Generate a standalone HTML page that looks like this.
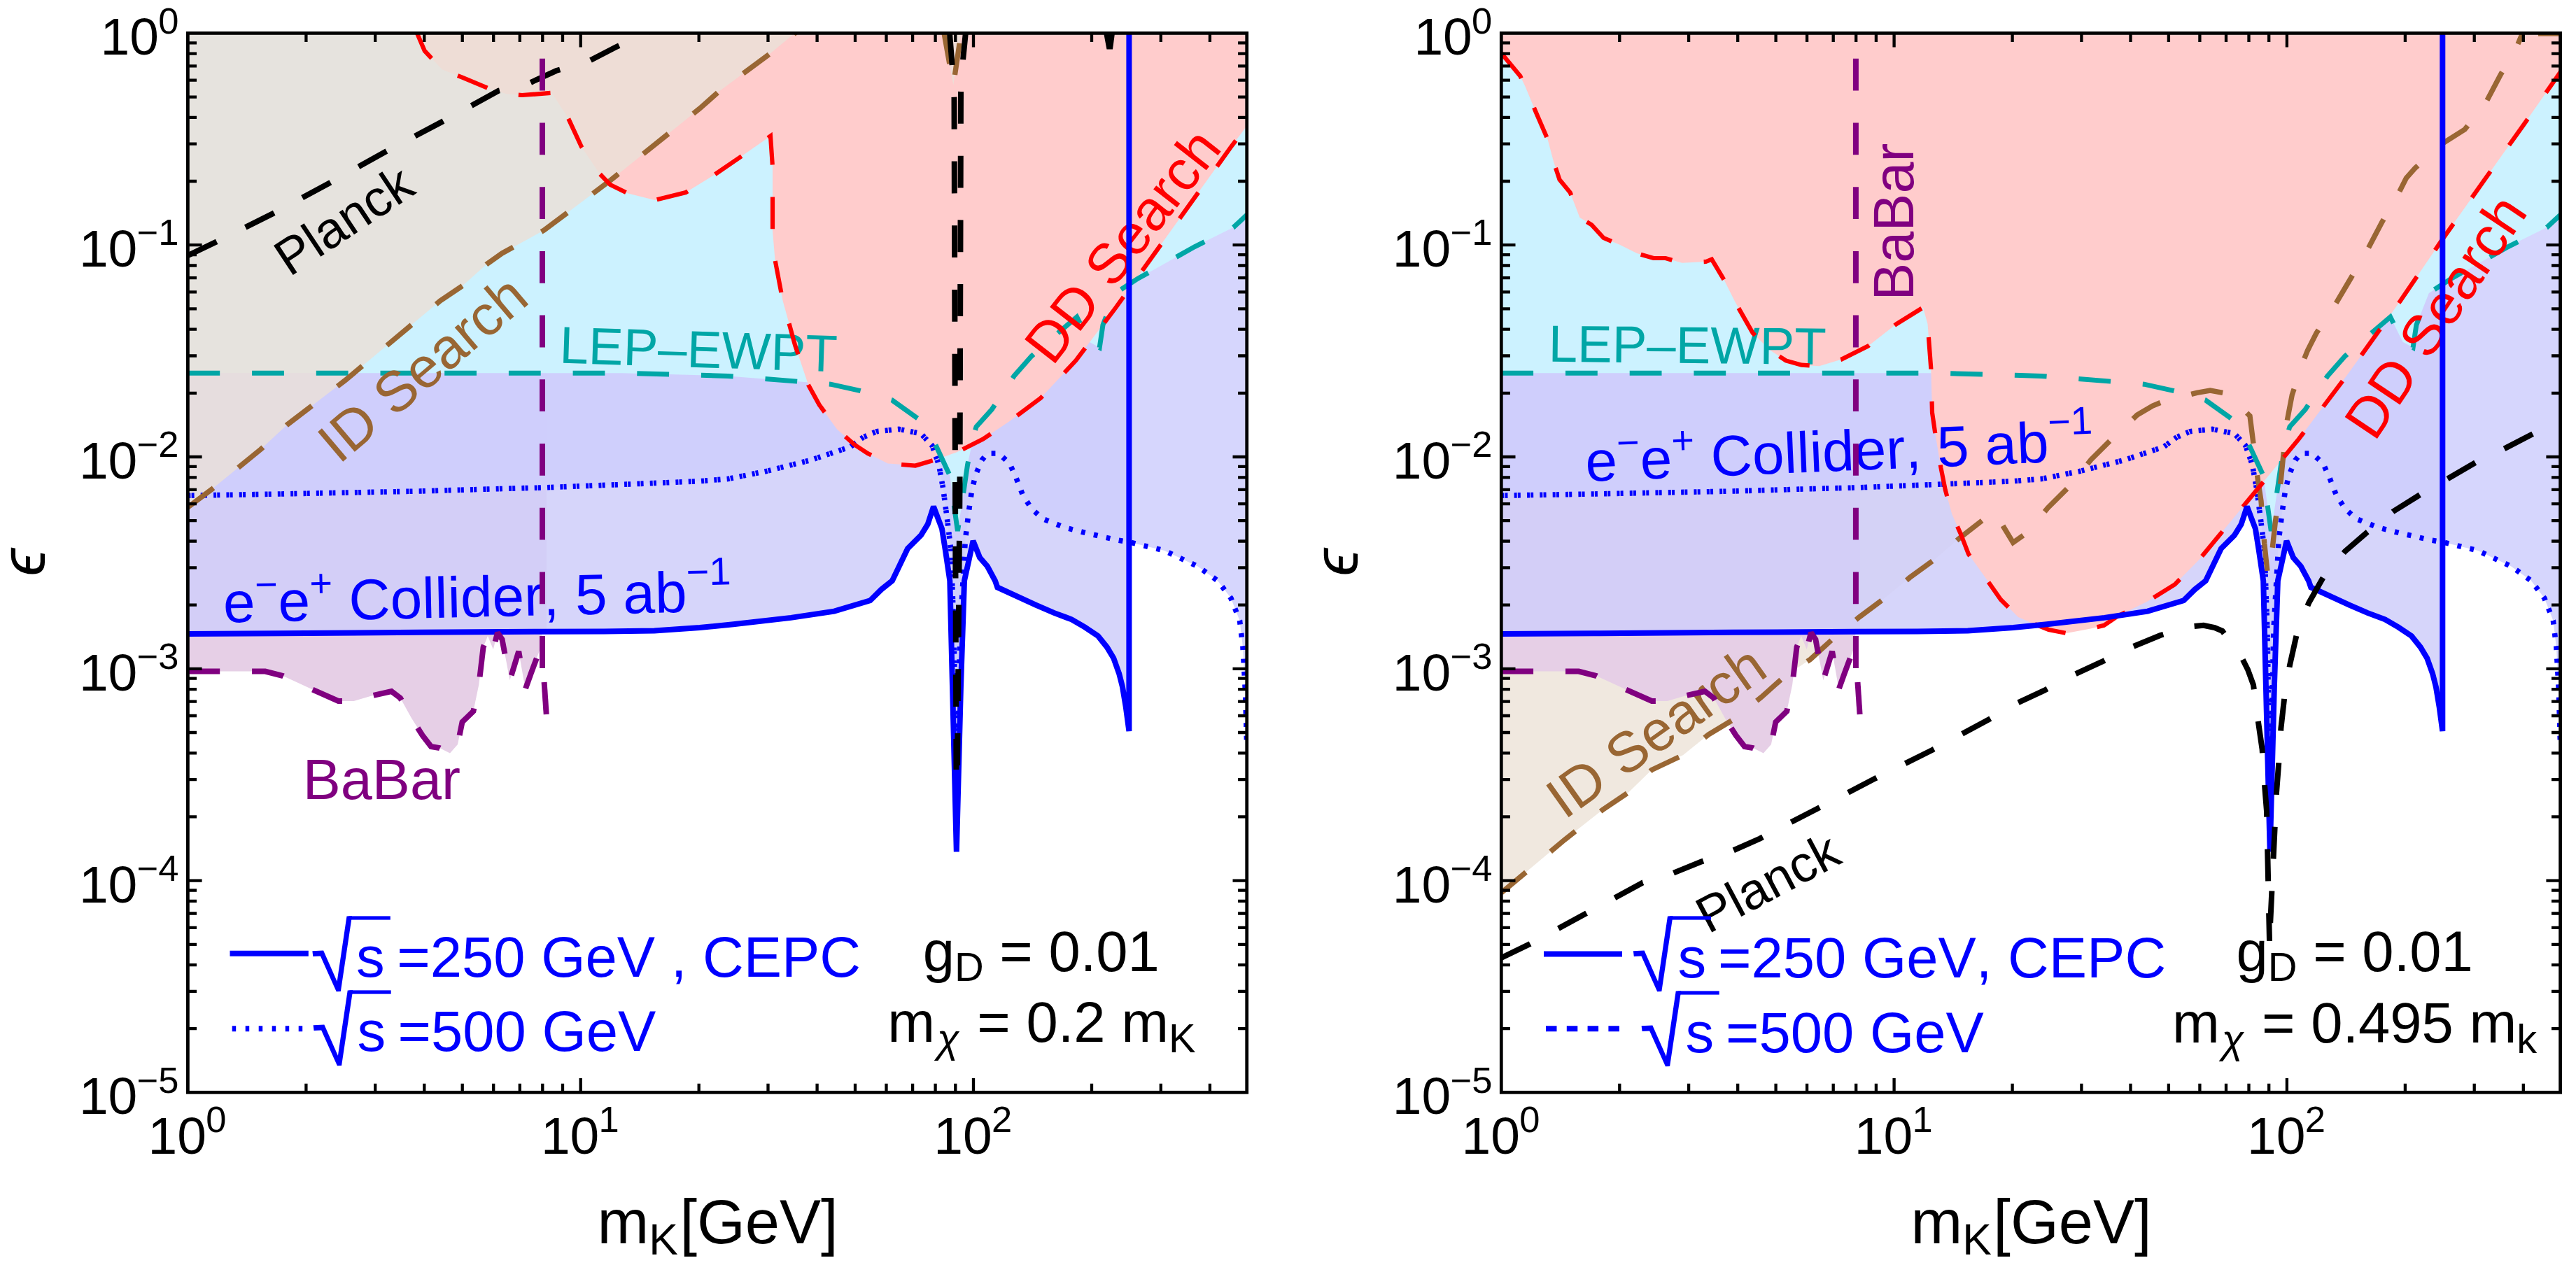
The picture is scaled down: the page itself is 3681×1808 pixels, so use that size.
<!DOCTYPE html>
<html lang="en"><head><meta charset="utf-8"><title>Dark photon kinetic mixing limits</title>
<style>html,body{margin:0;padding:0;background:#fff;overflow:hidden;width:3681px;height:1808px}svg{display:block}text{font-family:'Liberation Sans', Arial, sans-serif;font-kerning:none;font-variant-ligatures:none}</style></head><body>
<svg width="3681" height="1808" viewBox="0 0 3681 1808">
<rect width="3681" height="1808" fill="#fff"/>
<defs>
<clipPath id="cl"><rect x="268.4" y="47.4" width="1513.3" height="1513.9"/></clipPath>
<clipPath id="cr"><rect x="2145.3" y="47.4" width="1513.3" height="1513.9"/></clipPath>
</defs>
<g clip-path="url(#cl)">
<path d="M268.4,959.6 L379.0,959.6 L404.4,966.0 L445.5,985.0 L483.5,1002.0 L505.6,1002.0 L531.0,994.4 L559.4,988.0 L572.0,997.6 L587.8,1026.0 L603.6,1051.0 L616.0,1067.0 L628.0,1069.0 L643.0,1076.6 L654.0,1064.0 L660.5,1032.0 L676.4,1016.6 L684.3,978.6 L690.6,924.9 L697.0,909.0 L704.8,928.0 L711.0,904.3 L717.5,913.8 L728.5,972.3 L741.2,931.0 L750.7,985.0 L758.6,962.8 L772.8,924.9 L774.8,902.7 L781.0,902.7 L781.0,42.4 L268.4,42.4Z" fill="#e6cfe6"/>
<path d="M268.4,906.0 L400.0,905.3 L600.0,903.8 L775.0,902.8 L863.0,902.5 L935.0,901.4 L1000.0,897.0 L1048.0,892.2 L1130.3,882.9 L1192.0,873.7 L1243.4,858.3 L1259.3,842.6 L1275.0,830.0 L1297.0,784.0 L1316.0,765.0 L1325.7,749.4 L1334.0,724.0 L1346.0,755.7 L1351.0,787.0 L1357.3,830.0 L1361.0,980.0 L1366.8,1217.4 L1373.0,980.0 L1378.0,830.0 L1384.0,803.0 L1390.5,773.0 L1400.0,796.8 L1411.0,809.5 L1422.0,830.0 L1425.3,839.5 L1480.6,864.8 L1506.0,875.9 L1531.2,885.3 L1550.2,896.4 L1569.0,909.0 L1581.8,924.9 L1591.3,940.7 L1599.2,962.8 L1604.0,981.8 L1608.7,1010.0 L1613.4,1045.0 L1613.4,42.4 L268.4,42.4Z" fill="rgba(207,206,249,0.86)"/>
<path d="M268.4,708.3 L400.0,706.0 L500.0,704.0 L600.0,702.0 L700.0,699.0 L774.4,697.0 L900.0,692.0 L1000.0,687.7 L1040.0,684.5 L1095.0,673.5 L1158.0,657.7 L1215.0,638.7 L1234.0,624.5 L1253.0,616.6 L1284.6,613.4 L1316.0,619.7 L1332.0,637.0 L1341.5,664.0 L1347.8,698.8 L1354.0,746.0 L1359.0,787.0 L1363.0,900.0 L1367.0,1150.0 L1372.0,900.0 L1379.4,771.5 L1384.0,733.5 L1389.0,698.8 L1395.0,676.6 L1403.0,657.7 L1411.0,648.0 L1427.0,648.0 L1442.7,662.4 L1452.0,683.0 L1461.7,708.0 L1474.0,727.0 L1490.0,741.5 L1521.7,754.0 L1553.0,762.0 L1594.5,771.5 L1613.4,774.7 L1664.0,787.0 L1711.5,809.5 L1740.0,830.0 L1759.0,855.0 L1771.5,887.0 L1776.0,925.0 L1779.5,988.0 L1781.5,1060.0 L1781.7,42.4 L268.4,42.4Z" fill="rgba(206,206,252,0.83)"/>
<path d="M268.4,533.2 L888.0,533.2 L956.8,535.0 L1040.0,537.5 L1146.6,545.7 L1186.9,549.2 L1229.6,558.7 L1274.6,571.8 L1312.6,599.0 L1336.8,635.5 L1357.3,679.8 L1368.4,759.0 L1373.0,730.0 L1382.6,664.0 L1392.0,619.7 L1395.0,610.0 L1417.4,585.0 L1449.0,537.5 L1474.0,509.0 L1506.4,480.6 L1538.8,453.0 L1556.6,488.7 L1571.2,496.8 L1576.0,464.4 L1593.9,419.0 L1626.3,397.9 L1655.5,381.7 L1707.3,352.5 L1733.2,339.6 L1762.4,325.0 L1781.8,307.0 L1781.8,42.4 L268.4,42.4Z" fill="#ccf2ff"/>
<path d="M594.5,44.0 L606.8,72.7 L632.0,99.6 L660.5,110.6 L698.5,126.4 L723.8,134.3 L746.0,136.0 L788.6,132.8 L812.0,169.0 L831.0,210.0 L856.6,248.0 L872.0,264.0 L897.7,276.6 L935.6,286.0 L980.0,275.0 L1019.0,251.0 L1060.0,223.0 L1101.0,194.4 L1104.0,238.7 L1104.0,330.0 L1107.5,371.5 L1118.6,430.0 L1126.5,458.5 L1136.0,493.0 L1155.0,550.0 L1170.7,578.6 L1196.0,613.4 L1221.0,635.5 L1240.0,648.0 L1268.8,662.4 L1308.0,665.6 L1335.0,657.7 L1366.8,646.6 L1404.7,627.6 L1442.7,602.0 L1487.0,569.0 L1537.5,515.0 L1594.5,439.5 L1759.0,210.0 L1784.0,177.0 L1784.0,42.4 L594.5,42.4Z" fill="#ffcccc"/>
<path d="M268.4,725.0 L303.0,699.0 L372.8,642.0 L409.5,607.7 L493.0,543.8 L629.0,430.0 L660.9,408.5 L695.0,378.0 L717.5,362.0 L777.5,329.0 L872.4,257.7 L1000.0,155.0 L1027.0,131.0 L1100.0,77.0 L1140.0,44.0 L1140.0,42.4 L268.4,42.4Z" fill="rgba(235,224,215,0.83)"/>
<path d="M1348.8,46.0 L1362.3,121.7 L1373.5,46.0Z" fill="rgba(235,224,215,0.83)"/>
<g fill="none" stroke-linejoin="miter">
<path d="M268.4,708.3 L400.0,706.0 L500.0,704.0 L600.0,702.0 L700.0,699.0 L774.4,697.0 L900.0,692.0 L1000.0,687.7 L1040.0,684.5 L1095.0,673.5 L1158.0,657.7 L1215.0,638.7 L1234.0,624.5 L1253.0,616.6 L1284.6,613.4 L1316.0,619.7 L1332.0,637.0 L1341.5,664.0 L1347.8,698.8 L1354.0,746.0 L1359.0,787.0 L1363.0,900.0 L1367.0,1150.0" stroke="#0000ff" stroke-width="7.6" stroke-dasharray="4 1.2 4 9.15"/>
<path d="M1367.0,1150.0 L1372.0,900.0 L1379.4,771.5 L1384.0,733.5 L1389.0,698.8 L1395.0,676.6 L1403.0,657.7 L1411.0,648.0 L1427.0,648.0 L1442.7,662.4 L1452.0,683.0 L1461.7,708.0 L1474.0,727.0 L1490.0,741.5 L1521.7,754.0 L1553.0,762.0 L1594.5,771.5 L1613.4,774.7 L1664.0,787.0 L1711.5,809.5 L1740.0,830.0 L1759.0,855.0 L1771.5,887.0 L1776.0,925.0 L1779.5,988.0 L1781.5,1060.0" stroke="#0000ff" stroke-width="7.6" stroke-dasharray="5.8 12.55"/>
<path d="M268.4,533.2 L888.0,533.2 L956.8,535.0 L1040.0,537.5 L1146.6,545.7 L1186.9,549.2 L1229.6,558.7 L1274.6,571.8 L1312.6,599.0 L1336.8,635.5 L1357.3,679.8 L1368.4,759.0 L1373.0,730.0 L1382.6,664.0 L1392.0,619.7 L1395.0,610.0 L1417.4,585.0 L1449.0,537.5 L1474.0,509.0 L1506.4,480.6 L1538.8,453.0 L1556.6,488.7 L1571.2,496.8 L1576.0,464.4 L1593.9,419.0 L1626.3,397.9 L1655.5,381.7 L1707.3,352.5 L1733.2,339.6 L1762.4,325.0 L1781.8,307.0" stroke="#00a6a6" stroke-width="7" stroke-dasharray="45.8 45.9"/>
</g>
<text x="799" y="518.6" font-size="74.4" fill="#00a6a6" transform="rotate(1.85 799 518.6)">LEP–EWPT</text>
<g fill="none" stroke-linejoin="miter">
<path d="M268.4,725.0 L303.0,699.0 L372.8,642.0 L409.5,607.7 L493.0,543.8 L629.0,430.0 L660.9,408.5 L695.0,378.0 L717.5,362.0 L777.5,329.0 L872.4,257.7 L1000.0,155.0 L1027.0,131.0 L1100.0,77.0 L1140.0,44.0" stroke="#996633" stroke-width="7.4" stroke-dasharray="45.8 45.9"/>
<path d="M1348.8,46.0 L1362.3,121.7 L1373.5,46.0" stroke="#996633" stroke-width="7.4" stroke-dasharray="45.8 45.9"/>
</g>
<text x="484.5" y="664.5" font-size="81" fill="#996633" transform="rotate(-40.3 484.5 664.5)">ID Search</text>
<g fill="none" stroke-linejoin="miter">
<path d="M594.5,44.0 L606.8,72.7 L632.0,99.6 L660.5,110.6 L698.5,126.4 L723.8,134.3 L746.0,136.0 L788.6,132.8 L812.0,169.0 L831.0,210.0 L856.6,248.0 L872.0,264.0 L897.7,276.6 L935.6,286.0 L980.0,275.0 L1019.0,251.0 L1060.0,223.0 L1101.0,194.4 L1104.0,238.7 L1104.0,330.0 L1107.5,371.5 L1118.6,430.0 L1126.5,458.5 L1136.0,493.0 L1155.0,550.0 L1170.7,578.6 L1196.0,613.4 L1221.0,635.5 L1240.0,648.0 L1268.8,662.4 L1308.0,665.6 L1335.0,657.7 L1366.8,646.6 L1404.7,627.6 L1442.7,602.0 L1487.0,569.0 L1537.5,515.0 L1594.5,439.5 L1759.0,210.0 L1784.0,177.0" stroke="#ff0000" stroke-width="6.2" stroke-dasharray="45.8 45.9"/>
</g>
<text x="1504" y="524.4" font-size="81" fill="#ff0000" transform="rotate(-52 1504 524.4)">DD Search</text>
<path d="M268.4,906.0 L400.0,905.3 L600.0,903.8 L775.0,902.8 L863.0,902.5 L935.0,901.4 L1000.0,897.0 L1048.0,892.2 L1130.3,882.9 L1192.0,873.7 L1243.4,858.3 L1259.3,842.6 L1275.0,830.0 L1297.0,784.0 L1316.0,765.0 L1325.7,749.4 L1334.0,724.0 L1346.0,755.7 L1351.0,787.0 L1357.3,830.0 L1361.0,980.0 L1366.8,1217.4 L1373.0,980.0 L1378.0,830.0 L1384.0,803.0 L1390.5,773.0 L1400.0,796.8 L1411.0,809.5 L1422.0,830.0 L1425.3,839.5 L1480.6,864.8 L1506.0,875.9 L1531.2,885.3 L1550.2,896.4 L1569.0,909.0 L1581.8,924.9 L1591.3,940.7 L1599.2,962.8 L1604.0,981.8 L1608.7,1010.0 L1613.4,1045.0 L1613.4,47.4" fill="none" stroke="#0000ff" stroke-width="8" stroke-linejoin="miter" stroke-miterlimit="3"/>
<text x="319.6" y="889.8" font-size="82" fill="#0000ff" transform="rotate(-1.30 319.6 889.8)">e<tspan font-size="56" dy="-34">−</tspan><tspan dy="34">e</tspan><tspan font-size="56" dy="-34">+</tspan><tspan dy="34"> Collider, 5 ab</tspan><tspan font-size="56" dy="-38">−1</tspan></text>
<g fill="none" stroke="#000" stroke-width="8">
<path d="M268.4,365.2 L308.0,346.2 L390.2,305.1 L469.2,262.4 L551.5,216.6 L632.0,173.9 L712.7,129.6 L753.8,120.0 L795.0,101.0 L839.2,88.5 L878.7,68.0 L930.0,44.0" stroke-dasharray="45.8 45.9"/>
<path d="M1357.0,47.4 L1360.5,92.0 L1363.5,140.0 L1365.0,700.0 L1366.5,1100.0" stroke-dasharray="45.8 45.9"/>
<path d="M1380.6,39.6 L1376.2,84.0 L1373.0,131.0 L1371.5,700.0 L1368.0,1100.0" stroke-dasharray="45.8 45.9"/>
<path d="M1576.5,44.0 L1581.5,70.5 L1590.0,70.5 L1593.5,44.0Z" fill="#000" stroke="none"/>
</g>
<text x="413.7" y="396.3" font-size="73" fill="#000" transform="rotate(-33.5 413.7 396.3)">Planck</text>
<g fill="none" stroke="#800080" stroke-width="8" stroke-linejoin="miter" stroke-miterlimit="2">
<path d="M268.4,959.6 L379.0,959.6 L404.4,966.0 L445.5,985.0 L483.5,1002.0 L505.6,1002.0 L531.0,994.4 L559.4,988.0 L572.0,997.6 L587.8,1026.0 L603.6,1051.0 L616.0,1067.0 L628.0,1069.0 L643.0,1076.6 L654.0,1064.0 L660.5,1032.0 L676.4,1016.6 L684.3,978.6 L690.6,924.9 L697.0,909.0 L704.8,928.0 L711.0,904.3 L717.5,913.8 L728.5,972.3 L741.2,931.0 L750.7,985.0 L758.6,962.8 L772.8,924.9 L774.8,902.7" stroke-dasharray="45.8 45.9"/>
<path d="M775.0,83.8 L775.0,958.0" stroke-dasharray="45.8 45.9"/>
<path d="M777.6,975.0 L780.7,1021.0"/>
</g>
<text x="432.8" y="1141.5" font-size="81" fill="#800080">BaBar</text>
</g>
<line x1="328.5" y1="1362.8" x2="440.8" y2="1362.8" stroke="#0000ff" stroke-width="8"/>
<line x1="331.7" y1="1470.3" x2="434" y2="1470.3" stroke="#0000ff" stroke-width="8" stroke-dasharray="5.5 13.5"/>
<text x="0" y="0" font-size="100" font-family="'Liberation Serif','DejaVu Serif',serif" fill="#0000ff" transform="matrix(1.1927 -0.0554 0.1621 1.3340 450.40 1417.83)">√</text><rect x="498.0" y="1309.4" width="59.8" height="5.2" fill="#0000ff"/>
<text x="0" y="0" font-size="100" font-family="'Liberation Serif','DejaVu Serif',serif" fill="#0000ff" transform="matrix(1.1927 -0.0554 0.1621 1.3340 451.70 1523.83)">√</text><rect x="499.3" y="1415.4" width="59.4" height="5.2" fill="#0000ff"/>
<text x="509" y="1396" font-size="81.4" fill="#0000ff">s</text>
<text x="567.3" y="1396" font-size="81.4" fill="#0000ff">=250 GeV , CEPC</text>
<text x="510.5" y="1502" font-size="81.4" fill="#0000ff">s</text>
<text x="568.5" y="1502" font-size="81.4" fill="#0000ff">=500 GeV</text>
<text x="1318.7" y="1387.5" font-size="81.4">g<tspan font-size="57.8" dy="14.9">D</tspan><tspan dy="-14.9"> = 0.01</tspan></text>
<text x="1268.3" y="1489.3" font-size="81.4">m<tspan font-size="57.8" dy="14.9" font-style="italic" dx="3">χ</tspan><tspan dy="-14.9" dx="3"> = 0.2 m</tspan><tspan font-size="57.8" dy="14.9">K</tspan></text>
<g stroke="#000" fill="none">
<rect x="268.4" y="47.4" width="1513.3" height="1513.9" stroke-width="4.75"/>
<path stroke-width="4.3" d="M437.4,1561.3L437.4,1548.7M437.4,47.4L437.4,60.0M536.2,1561.3L536.2,1548.7M536.2,47.4L536.2,60.0M606.3,1561.3L606.3,1548.7M606.3,47.4L606.3,60.0M660.7,1561.3L660.7,1548.7M660.7,47.4L660.7,60.0M705.2,1561.3L705.2,1548.7M705.2,47.4L705.2,60.0M742.8,1561.3L742.8,1548.7M742.8,47.4L742.8,60.0M775.3,1561.3L775.3,1548.7M775.3,47.4L775.3,60.0M804.0,1561.3L804.0,1548.7M804.0,47.4L804.0,60.0M829.7,1561.3L829.7,1541.1M829.7,47.4L829.7,67.6M998.7,1561.3L998.7,1548.7M998.7,47.4L998.7,60.0M1097.5,1561.3L1097.5,1548.7M1097.5,47.4L1097.5,60.0M1167.6,1561.3L1167.6,1548.7M1167.6,47.4L1167.6,60.0M1222.0,1561.3L1222.0,1548.7M1222.0,47.4L1222.0,60.0M1266.5,1561.3L1266.5,1548.7M1266.5,47.4L1266.5,60.0M1304.1,1561.3L1304.1,1548.7M1304.1,47.4L1304.1,60.0M1336.6,1561.3L1336.6,1548.7M1336.6,47.4L1336.6,60.0M1365.3,1561.3L1365.3,1548.7M1365.3,47.4L1365.3,60.0M1391.0,1561.3L1391.0,1541.1M1391.0,47.4L1391.0,67.6M1560.0,1561.3L1560.0,1548.7M1560.0,47.4L1560.0,60.0M1658.8,1561.3L1658.8,1548.7M1658.8,47.4L1658.8,60.0M1728.9,1561.3L1728.9,1548.7M1728.9,47.4L1728.9,60.0M268.4,350.2L288.6,350.2M1781.7,350.2L1761.5,350.2M268.4,259.0L281.0,259.0M1781.7,259.0L1769.1,259.0M268.4,205.7L281.0,205.7M1781.7,205.7L1769.1,205.7M268.4,167.9L281.0,167.9M1781.7,167.9L1769.1,167.9M268.4,138.6L281.0,138.6M1781.7,138.6L1769.1,138.6M268.4,114.6L281.0,114.6M1781.7,114.6L1769.1,114.6M268.4,94.3L281.0,94.3M1781.7,94.3L1769.1,94.3M268.4,76.7L281.0,76.7M1781.7,76.7L1769.1,76.7M268.4,61.3L281.0,61.3M1781.7,61.3L1769.1,61.3M268.4,653.0L288.6,653.0M1781.7,653.0L1761.5,653.0M268.4,561.8L281.0,561.8M1781.7,561.8L1769.1,561.8M268.4,508.5L281.0,508.5M1781.7,508.5L1769.1,508.5M268.4,470.7L281.0,470.7M1781.7,470.7L1769.1,470.7M268.4,441.4L281.0,441.4M1781.7,441.4L1769.1,441.4M268.4,417.4L281.0,417.4M1781.7,417.4L1769.1,417.4M268.4,397.1L281.0,397.1M1781.7,397.1L1769.1,397.1M268.4,379.5L281.0,379.5M1781.7,379.5L1769.1,379.5M268.4,364.1L281.0,364.1M1781.7,364.1L1769.1,364.1M268.4,955.8L288.6,955.8M1781.7,955.8L1761.5,955.8M268.4,864.6L281.0,864.6M1781.7,864.6L1769.1,864.6M268.4,811.3L281.0,811.3M1781.7,811.3L1769.1,811.3M268.4,773.5L281.0,773.5M1781.7,773.5L1769.1,773.5M268.4,744.2L281.0,744.2M1781.7,744.2L1769.1,744.2M268.4,720.2L281.0,720.2M1781.7,720.2L1769.1,720.2M268.4,699.9L281.0,699.9M1781.7,699.9L1769.1,699.9M268.4,682.3L281.0,682.3M1781.7,682.3L1769.1,682.3M268.4,666.9L281.0,666.9M1781.7,666.9L1769.1,666.9M268.4,1258.6L288.6,1258.6M1781.7,1258.6L1761.5,1258.6M268.4,1167.4L281.0,1167.4M1781.7,1167.4L1769.1,1167.4M268.4,1114.1L281.0,1114.1M1781.7,1114.1L1769.1,1114.1M268.4,1076.3L281.0,1076.3M1781.7,1076.3L1769.1,1076.3M268.4,1047.0L281.0,1047.0M1781.7,1047.0L1769.1,1047.0M268.4,1023.0L281.0,1023.0M1781.7,1023.0L1769.1,1023.0M268.4,1002.7L281.0,1002.7M1781.7,1002.7L1769.1,1002.7M268.4,985.1L281.0,985.1M1781.7,985.1L1769.1,985.1M268.4,969.7L281.0,969.7M1781.7,969.7L1769.1,969.7M268.4,1470.2L281.0,1470.2M1781.7,1470.2L1769.1,1470.2M268.4,1416.9L281.0,1416.9M1781.7,1416.9L1769.1,1416.9M268.4,1379.1L281.0,1379.1M1781.7,1379.1L1769.1,1379.1M268.4,1349.8L281.0,1349.8M1781.7,1349.8L1769.1,1349.8M268.4,1325.8L281.0,1325.8M1781.7,1325.8L1769.1,1325.8M268.4,1305.5L281.0,1305.5M1781.7,1305.5L1769.1,1305.5M268.4,1287.9L281.0,1287.9M1781.7,1287.9L1769.1,1287.9M268.4,1272.5L281.0,1272.5M1781.7,1272.5L1769.1,1272.5"/>
</g>
<g fill="#000">
<text x="143.5" y="78.3" font-size="75">10</text><text x="226.2" y="47.5" font-size="52.5">0</text>
<text x="112.9" y="381.1" font-size="75">10</text><text x="195.6" y="350.3" font-size="52.5">−1</text>
<text x="112.9" y="683.9" font-size="75">10</text><text x="195.6" y="653.1" font-size="52.5">−2</text>
<text x="112.9" y="986.7" font-size="75">10</text><text x="195.6" y="955.9" font-size="52.5">−3</text>
<text x="112.9" y="1289.5" font-size="75">10</text><text x="195.6" y="1258.7" font-size="52.5">−4</text>
<text x="112.9" y="1592.3" font-size="75">10</text><text x="195.6" y="1561.5" font-size="52.5">−5</text>
<text x="211.6" y="1648.7" font-size="75">10</text><text x="294.3" y="1617.9" font-size="52.5">0</text>
<text x="772.9" y="1648.7" font-size="75">10</text><text x="855.6" y="1617.9" font-size="52.5">1</text>
<text x="1334.2" y="1648.7" font-size="75">10</text><text x="1416.9" y="1617.9" font-size="52.5">2</text>
<text x="853.5" y="1777" font-size="88.5">m<tspan font-size="62.5" dy="16.3">K</tspan><tspan dy="-16.3" dx="2.5">[GeV]</tspan></text>
<text x="63.5" y="823.5" font-size="90" font-family="'DejaVu Sans',sans-serif" font-style="oblique" transform="rotate(-90 63.5 823.5)">ϵ</text>
</g>
<g clip-path="url(#cr)">
<path d="M2145.4,1276.0 L2236.0,1200.0 L2290.0,1157.5 L2327.7,1132.0 L2360.0,1100.5 L2405.0,1079.2 L2441.5,1049.8 L2477.3,1028.2 L2517.4,996.0 L2549.0,967.6 L2587.0,942.3 L2621.7,910.7 L2656.5,882.2 L2694.5,853.8 L2729.2,825.3 L2765.2,799.2 L2799.6,769.5 L2836.3,741.0 L2850.0,731.0 L2863.6,754.0 L2876.6,775.5 L2896.8,761.2 L2926.4,725.7 L2958.4,693.7 L2988.0,657.0 L3020.0,625.0 L3054.0,593.0 L3076.0,580.0 L3095.0,572.3 L3139.3,561.3 L3158.3,558.0 L3183.6,562.8 L3215.0,594.5 L3220.0,634.0 L3226.2,684.6 L3231.0,716.0 L3235.7,776.3 L3240.5,822.0 L3246.8,787.4 L3251.5,744.7 L3257.9,700.4 L3262.6,653.0 L3267.4,605.5 L3275.3,564.4 L3291.0,517.0 L3297.4,501.0 L3310.0,476.0 L3335.3,438.0 L3359.0,398.0 L3383.0,357.0 L3403.6,317.8 L3427.3,276.7 L3438.4,254.5 L3451.0,240.3 L3487.4,207.0 L3522.0,185.0 L3552.0,147.0 L3572.8,107.5 L3596.5,66.4 L3606.0,44.0 L3606.0,42.4 L2145.4,42.4Z" fill="#f0e8df"/>
<path d="M2145.3,959.6 L2255.9,959.6 L2281.3,966.0 L2322.4,985.0 L2360.4,1002.0 L2382.5,1002.0 L2407.9,994.4 L2436.3,988.0 L2448.9,997.6 L2464.7,1026.0 L2480.5,1051.0 L2492.9,1067.0 L2504.9,1069.0 L2519.9,1076.6 L2530.9,1064.0 L2537.4,1032.0 L2553.3,1016.6 L2561.2,978.6 L2567.5,924.9 L2573.9,909.0 L2581.7,928.0 L2587.9,904.3 L2594.4,913.8 L2605.4,972.3 L2618.1,931.0 L2627.6,985.0 L2635.5,962.8 L2649.7,924.9 L2651.7,902.7 L2657.9,902.7 L2657.9,42.4 L2145.3,42.4Z" fill="#e6cfe6"/>
<path d="M2145.3,906.0 L2276.9,905.3 L2476.9,903.8 L2651.9,902.8 L2739.9,902.5 L2811.9,901.4 L2876.9,897.0 L2924.9,892.2 L3007.2,882.9 L3068.9,873.7 L3120.3,858.3 L3136.2,842.6 L3151.9,830.0 L3173.9,784.0 L3192.9,765.0 L3202.6,749.4 L3210.9,724.0 L3222.9,755.7 L3227.9,787.0 L3234.2,830.0 L3237.9,980.0 L3243.7,1217.4 L3249.9,980.0 L3254.9,830.0 L3260.9,803.0 L3267.4,773.0 L3276.9,796.8 L3287.9,809.5 L3298.9,830.0 L3302.2,839.5 L3357.5,864.8 L3382.9,875.9 L3408.1,885.3 L3427.1,896.4 L3445.9,909.0 L3458.7,924.9 L3468.2,940.7 L3476.1,962.8 L3480.9,981.8 L3485.6,1010.0 L3490.3,1045.0 L3490.3,42.4 L2145.3,42.4Z" fill="rgba(207,206,249,0.86)"/>
<path d="M2145.3,708.3 L2276.9,706.0 L2376.9,704.0 L2476.9,702.0 L2576.9,699.0 L2651.3,697.0 L2776.9,692.0 L2876.9,687.7 L2916.9,684.5 L2971.9,673.5 L3034.9,657.7 L3091.9,638.7 L3110.9,624.5 L3129.9,616.6 L3161.5,613.4 L3192.9,619.7 L3208.9,637.0 L3218.4,664.0 L3224.7,698.8 L3230.9,746.0 L3235.9,787.0 L3239.9,900.0 L3243.9,1150.0 L3248.9,900.0 L3256.3,771.5 L3260.9,733.5 L3265.9,698.8 L3271.9,676.6 L3279.9,657.7 L3287.9,648.0 L3303.9,648.0 L3319.6,662.4 L3328.9,683.0 L3338.6,708.0 L3350.9,727.0 L3366.9,741.5 L3398.6,754.0 L3429.9,762.0 L3471.4,771.5 L3490.3,774.7 L3540.9,787.0 L3588.4,809.5 L3616.9,830.0 L3635.9,855.0 L3648.4,887.0 L3652.9,925.0 L3656.4,988.0 L3658.4,1060.0 L3658.6,42.4 L2145.3,42.4Z" fill="rgba(206,206,252,0.83)"/>
<path d="M2145.3,533.2 L2764.9,533.2 L2833.7,535.0 L2916.9,537.5 L3023.5,545.7 L3063.8,549.2 L3106.5,558.7 L3151.5,571.8 L3189.5,599.0 L3213.7,635.5 L3234.2,679.8 L3245.3,759.0 L3249.9,730.0 L3259.5,664.0 L3268.9,619.7 L3271.9,610.0 L3294.3,585.0 L3325.9,537.5 L3350.9,509.0 L3383.3,480.6 L3415.7,453.0 L3433.5,488.7 L3448.1,496.8 L3452.9,464.4 L3470.8,419.0 L3503.2,397.9 L3532.4,381.7 L3584.2,352.5 L3610.1,339.6 L3639.3,325.0 L3658.7,307.0 L3658.7,42.4 L2145.3,42.4Z" fill="#ccf2ff"/>
<path d="M2145.4,76.0 L2148.6,80.0 L2172.4,108.8 L2179.0,122.4 L2194.5,159.8 L2211.5,199.0 L2220.0,231.0 L2228.5,256.7 L2243.8,275.4 L2257.4,311.0 L2274.4,321.3 L2291.4,340.0 L2315.0,350.0 L2339.0,362.0 L2362.8,369.0 L2380.0,369.0 L2403.6,375.7 L2437.6,374.0 L2446.0,370.6 L2463.6,400.0 L2479.4,431.6 L2504.7,476.0 L2530.0,501.0 L2552.0,515.4 L2574.3,521.7 L2599.6,523.3 L2631.0,513.8 L2669.0,494.9 L2710.0,463.0 L2748.0,439.5 L2754.5,463.0 L2759.3,526.5 L2761.0,589.7 L2765.6,621.3 L2773.5,668.8 L2779.8,700.4 L2789.3,735.0 L2802.0,763.6 L2813.0,792.0 L2836.8,825.3 L2859.0,857.0 L2884.0,882.0 L2900.0,889.0 L2927.4,900.0 L2952.7,905.0 L2987.5,898.6 L3006.5,893.8 L3025.5,881.0 L3069.7,859.0 L3107.7,835.3 L3142.4,800.0 L3284.7,627.7 L3354.0,536.0 L3430.0,430.0 L3487.4,346.0 L3552.0,254.5 L3606.0,178.6 L3650.0,115.4 L3662.0,98.0 L3662.0,42.4 L2145.4,42.4Z" fill="#ffcccc"/>
<g fill="none" stroke-linejoin="miter">
<path d="M2145.3,708.3 L2276.9,706.0 L2376.9,704.0 L2476.9,702.0 L2576.9,699.0 L2651.3,697.0 L2776.9,692.0 L2876.9,687.7 L2916.9,684.5 L2971.9,673.5 L3034.9,657.7 L3091.9,638.7 L3110.9,624.5 L3129.9,616.6 L3161.5,613.4 L3192.9,619.7 L3208.9,637.0 L3218.4,664.0 L3224.7,698.8 L3230.9,746.0 L3235.9,787.0 L3239.9,900.0 L3243.9,1150.0" stroke="#0000ff" stroke-width="7.6" stroke-dasharray="4 1.2 4 9.15"/>
<path d="M3243.9,1150.0 L3248.9,900.0 L3256.3,771.5 L3260.9,733.5 L3265.9,698.8 L3271.9,676.6 L3279.9,657.7 L3287.9,648.0 L3303.9,648.0 L3319.6,662.4 L3328.9,683.0 L3338.6,708.0 L3350.9,727.0 L3366.9,741.5 L3398.6,754.0 L3429.9,762.0 L3471.4,771.5 L3490.3,774.7 L3540.9,787.0 L3588.4,809.5 L3616.9,830.0 L3635.9,855.0 L3648.4,887.0 L3652.9,925.0 L3656.4,988.0 L3658.4,1060.0" stroke="#0000ff" stroke-width="7.6" stroke-dasharray="5.8 12.55"/>
<path d="M2145.3,533.2 L2764.9,533.2 L2833.7,535.0 L2916.9,537.5 L3023.5,545.7 L3063.8,549.2 L3106.5,558.7 L3151.5,571.8 L3189.5,599.0 L3213.7,635.5 L3234.2,679.8 L3245.3,759.0 L3249.9,730.0 L3259.5,664.0 L3268.9,619.7 L3271.9,610.0 L3294.3,585.0 L3325.9,537.5 L3350.9,509.0 L3383.3,480.6 L3415.7,453.0 L3433.5,488.7 L3448.1,496.8 L3452.9,464.4 L3470.8,419.0 L3503.2,397.9 L3532.4,381.7 L3584.2,352.5 L3610.1,339.6 L3639.3,325.0 L3658.7,307.0" stroke="#00a6a6" stroke-width="7" stroke-dasharray="45.8 45.9"/>
</g>
<text x="2212.5" y="516.8" font-size="74.4" fill="#00a6a6" transform="rotate(0.6 2212.5 516.8)">LEP–EWPT</text>
<g fill="none" stroke-linejoin="miter">
<path d="M2145.4,1276.0 L2236.0,1200.0 L2290.0,1157.5 L2327.7,1132.0 L2360.0,1100.5 L2405.0,1079.2 L2441.5,1049.8 L2477.3,1028.2 L2517.4,996.0 L2549.0,967.6 L2587.0,942.3 L2621.7,910.7 L2656.5,882.2 L2694.5,853.8 L2729.2,825.3 L2765.2,799.2 L2799.6,769.5 L2836.3,741.0 L2850.0,731.0 L2863.6,754.0 L2876.6,775.5 L2896.8,761.2 L2926.4,725.7 L2958.4,693.7 L2988.0,657.0 L3020.0,625.0 L3054.0,593.0 L3076.0,580.0 L3095.0,572.3 L3139.3,561.3 L3158.3,558.0 L3183.6,562.8 L3215.0,594.5 L3220.0,634.0 L3226.2,684.6 L3231.0,716.0 L3235.7,776.3 L3240.5,822.0 L3246.8,787.4 L3251.5,744.7 L3257.9,700.4 L3262.6,653.0 L3267.4,605.5 L3275.3,564.4 L3291.0,517.0 L3297.4,501.0 L3310.0,476.0 L3335.3,438.0 L3359.0,398.0 L3383.0,357.0 L3403.6,317.8 L3427.3,276.7 L3438.4,254.5 L3451.0,240.3 L3487.4,207.0 L3522.0,185.0 L3552.0,147.0 L3572.8,107.5 L3596.5,66.4 L3606.0,44.0" stroke="#996633" stroke-width="7.4" stroke-dasharray="45.8 45.9"/>
<path d="M3627,50.3 L3658,50.3" stroke="#996633" stroke-width="3"/>
</g>
<text x="2235.4" y="1172.2" font-size="81" fill="#996633" transform="rotate(-35.3 2235.4 1172.2)">ID Search</text>
<g fill="none" stroke-linejoin="miter">
<path d="M2145.4,76.0 L2148.6,80.0 L2172.4,108.8 L2179.0,122.4 L2194.5,159.8 L2211.5,199.0 L2220.0,231.0 L2228.5,256.7 L2243.8,275.4 L2257.4,311.0 L2274.4,321.3 L2291.4,340.0 L2315.0,350.0 L2339.0,362.0 L2362.8,369.0 L2380.0,369.0 L2403.6,375.7 L2437.6,374.0 L2446.0,370.6 L2463.6,400.0 L2479.4,431.6 L2504.7,476.0 L2530.0,501.0 L2552.0,515.4 L2574.3,521.7 L2599.6,523.3 L2631.0,513.8 L2669.0,494.9 L2710.0,463.0 L2748.0,439.5 L2754.5,463.0 L2759.3,526.5 L2761.0,589.7 L2765.6,621.3 L2773.5,668.8 L2779.8,700.4 L2789.3,735.0 L2802.0,763.6 L2813.0,792.0 L2836.8,825.3 L2859.0,857.0 L2884.0,882.0 L2900.0,889.0 L2927.4,900.0 L2952.7,905.0 L2987.5,898.6 L3006.5,893.8 L3025.5,881.0 L3069.7,859.0 L3107.7,835.3 L3142.4,800.0 L3284.7,627.7 L3354.0,536.0 L3430.0,430.0 L3487.4,346.0 L3552.0,254.5 L3606.0,178.6 L3650.0,115.4 L3662.0,98.0" stroke="#ff0000" stroke-width="6.2" stroke-dasharray="45.8 45.9"/>
</g>
<text x="3393.2" y="632.5" font-size="81" fill="#ff0000" transform="rotate(-56.2 3393.2 632.5)">DD Search</text>
<path d="M2145.3,906.0 L2276.9,905.3 L2476.9,903.8 L2651.9,902.8 L2739.9,902.5 L2811.9,901.4 L2876.9,897.0 L2924.9,892.2 L3007.2,882.9 L3068.9,873.7 L3120.3,858.3 L3136.2,842.6 L3151.9,830.0 L3173.9,784.0 L3192.9,765.0 L3202.6,749.4 L3210.9,724.0 L3222.9,755.7 L3227.9,787.0 L3234.2,830.0 L3237.9,980.0 L3243.7,1217.4 L3249.9,980.0 L3254.9,830.0 L3260.9,803.0 L3267.4,773.0 L3276.9,796.8 L3287.9,809.5 L3298.9,830.0 L3302.2,839.5 L3357.5,864.8 L3382.9,875.9 L3408.1,885.3 L3427.1,896.4 L3445.9,909.0 L3458.7,924.9 L3468.2,940.7 L3476.1,962.8 L3480.9,981.8 L3485.6,1010.0 L3490.3,1045.0 L3490.3,47.4" fill="none" stroke="#0000ff" stroke-width="8" stroke-linejoin="miter" stroke-miterlimit="3"/>
<text x="2266.5" y="688.2" font-size="82" fill="#0000ff" transform="rotate(-2.40 2266.5 688.2)">e<tspan font-size="56" dy="-34">−</tspan><tspan dy="34">e</tspan><tspan font-size="56" dy="-34">+</tspan><tspan dy="34"> Collider, 5 ab</tspan><tspan font-size="56" dy="-38">−1</tspan></text>
<g fill="none" stroke="#000" stroke-width="8">
<path d="M2145.4,1369.0 L2186.2,1349.2 L2266.9,1305.3 L2347.5,1261.5 L2386.6,1249.6 L2430.5,1231.8 L2472.0,1217.6 L2514.7,1198.6 L2555.0,1177.3 L2596.5,1156.0 L2678.7,1113.0 L2761.0,1072.0 L2843.0,1027.7 L2880.0,1006.0 L2921.0,987.0 L2962.0,965.0 L3003.3,946.0 L3044.4,925.5 L3087.0,908.0 L3131.4,895.4 L3148.8,893.8 L3164.6,897.0 L3175.6,901.7 L3202.5,938.0 L3212.0,957.0 L3220.0,979.0 L3226.2,1026.6 L3232.6,1071.0 L3235.7,1118.0 L3239.0,1159.4 L3243.0,1345.0" stroke-dasharray="45.8 45.9"/>
<path d="M3243.0,1345.0 L3253.0,1132.6 L3256.3,1090.0 L3259.4,1040.8 L3264.2,998.0 L3272.0,950.7 L3281.6,908.0 L3299.0,862.0 L3319.5,825.8 L3351.0,788.0 L3382.8,760.5 L3420.7,730.4 L3458.7,706.7 L3499.8,683.0 L3537.7,660.9 L3580.4,640.3 L3620.0,619.8 L3660.0,599.0" stroke-dasharray="45.8 45.9" stroke-dashoffset="65.8"/>
</g>
<text x="2441.1" y="1335.2" font-size="73" fill="#000" transform="rotate(-28 2441.1 1335.2)">Planck</text>
<g fill="none" stroke="#800080" stroke-width="8" stroke-linejoin="miter" stroke-miterlimit="2">
<path d="M2145.3,959.6 L2255.9,959.6 L2281.3,966.0 L2322.4,985.0 L2360.4,1002.0 L2382.5,1002.0 L2407.9,994.4 L2436.3,988.0 L2448.9,997.6 L2464.7,1026.0 L2480.5,1051.0 L2492.9,1067.0 L2504.9,1069.0 L2519.9,1076.6 L2530.9,1064.0 L2537.4,1032.0 L2553.3,1016.6 L2561.2,978.6 L2567.5,924.9 L2573.9,909.0 L2581.7,928.0 L2587.9,904.3 L2594.4,913.8 L2605.4,972.3 L2618.1,931.0 L2627.6,985.0 L2635.5,962.8 L2649.7,924.9 L2651.7,902.7" stroke-dasharray="45.8 45.9"/>
<path d="M2651.9,83.8 L2651.9,958.0" stroke-dasharray="45.8 45.9"/>
<path d="M2654.5,975.0 L2657.6,1021.0"/>
</g>
<text x="2734.4" y="429.7" font-size="81" fill="#800080" transform="rotate(-90 2734.4 429.7)">BaBar</text>
</g>
<line x1="2206" y1="1363.4" x2="2318" y2="1363.4" stroke="#0000ff" stroke-width="8"/>
<line x1="2209" y1="1470.3" x2="2314" y2="1470.3" stroke="#0000ff" stroke-width="8" stroke-dasharray="15.5 14.3"/>
<text x="0" y="0" font-size="100" font-family="'Liberation Serif','DejaVu Serif',serif" fill="#0000ff" transform="matrix(1.1927 -0.0554 0.1621 1.3340 2338.10 1417.83)">√</text><rect x="2385.7" y="1309.4" width="59.3" height="5.2" fill="#0000ff"/>
<text x="0" y="0" font-size="100" font-family="'Liberation Serif','DejaVu Serif',serif" fill="#0000ff" transform="matrix(1.1927 -0.0554 0.1621 1.3340 2349.70 1524.83)">√</text><rect x="2397.3" y="1416.4" width="59.4" height="5.2" fill="#0000ff"/>
<text x="2397.5" y="1396.6" font-size="81.4" fill="#0000ff">s</text>
<text x="2455" y="1396.6" font-size="81.4" fill="#0000ff">=250 GeV, CEPC</text>
<text x="2408.5" y="1504" font-size="81.4" fill="#0000ff">s</text>
<text x="2466" y="1504" font-size="81.4" fill="#0000ff">=500 GeV</text>
<text x="3195.6" y="1387.5" font-size="81.4">g<tspan font-size="57.8" dy="14.9">D</tspan><tspan dy="-14.9"> = 0.01</tspan></text>
<text x="3104" y="1490" font-size="81.4">m<tspan font-size="57.8" dy="14.9" font-style="italic" dx="3">χ</tspan><tspan dy="-14.9" dx="3"> = 0.495 m</tspan><tspan font-size="57.8" dy="14.9">k</tspan></text>
<g stroke="#000" fill="none">
<rect x="2145.3" y="47.4" width="1513.3" height="1513.9" stroke-width="4.75"/>
<path stroke-width="4.3" d="M2314.3,1561.3L2314.3,1548.7M2314.3,47.4L2314.3,60.0M2413.1,1561.3L2413.1,1548.7M2413.1,47.4L2413.1,60.0M2483.2,1561.3L2483.2,1548.7M2483.2,47.4L2483.2,60.0M2537.6,1561.3L2537.6,1548.7M2537.6,47.4L2537.6,60.0M2582.1,1561.3L2582.1,1548.7M2582.1,47.4L2582.1,60.0M2619.7,1561.3L2619.7,1548.7M2619.7,47.4L2619.7,60.0M2652.2,1561.3L2652.2,1548.7M2652.2,47.4L2652.2,60.0M2680.9,1561.3L2680.9,1548.7M2680.9,47.4L2680.9,60.0M2706.6,1561.3L2706.6,1541.1M2706.6,47.4L2706.6,67.6M2875.6,1561.3L2875.6,1548.7M2875.6,47.4L2875.6,60.0M2974.4,1561.3L2974.4,1548.7M2974.4,47.4L2974.4,60.0M3044.5,1561.3L3044.5,1548.7M3044.5,47.4L3044.5,60.0M3098.9,1561.3L3098.9,1548.7M3098.9,47.4L3098.9,60.0M3143.4,1561.3L3143.4,1548.7M3143.4,47.4L3143.4,60.0M3181.0,1561.3L3181.0,1548.7M3181.0,47.4L3181.0,60.0M3213.5,1561.3L3213.5,1548.7M3213.5,47.4L3213.5,60.0M3242.2,1561.3L3242.2,1548.7M3242.2,47.4L3242.2,60.0M3267.9,1561.3L3267.9,1541.1M3267.9,47.4L3267.9,67.6M3436.9,1561.3L3436.9,1548.7M3436.9,47.4L3436.9,60.0M3535.7,1561.3L3535.7,1548.7M3535.7,47.4L3535.7,60.0M3605.8,1561.3L3605.8,1548.7M3605.8,47.4L3605.8,60.0M2145.3,350.2L2165.5,350.2M3658.6,350.2L3638.4,350.2M2145.3,259.0L2157.9,259.0M3658.6,259.0L3646.0,259.0M2145.3,205.7L2157.9,205.7M3658.6,205.7L3646.0,205.7M2145.3,167.9L2157.9,167.9M3658.6,167.9L3646.0,167.9M2145.3,138.6L2157.9,138.6M3658.6,138.6L3646.0,138.6M2145.3,114.6L2157.9,114.6M3658.6,114.6L3646.0,114.6M2145.3,94.3L2157.9,94.3M3658.6,94.3L3646.0,94.3M2145.3,76.7L2157.9,76.7M3658.6,76.7L3646.0,76.7M2145.3,61.3L2157.9,61.3M3658.6,61.3L3646.0,61.3M2145.3,653.0L2165.5,653.0M3658.6,653.0L3638.4,653.0M2145.3,561.8L2157.9,561.8M3658.6,561.8L3646.0,561.8M2145.3,508.5L2157.9,508.5M3658.6,508.5L3646.0,508.5M2145.3,470.7L2157.9,470.7M3658.6,470.7L3646.0,470.7M2145.3,441.4L2157.9,441.4M3658.6,441.4L3646.0,441.4M2145.3,417.4L2157.9,417.4M3658.6,417.4L3646.0,417.4M2145.3,397.1L2157.9,397.1M3658.6,397.1L3646.0,397.1M2145.3,379.5L2157.9,379.5M3658.6,379.5L3646.0,379.5M2145.3,364.1L2157.9,364.1M3658.6,364.1L3646.0,364.1M2145.3,955.8L2165.5,955.8M3658.6,955.8L3638.4,955.8M2145.3,864.6L2157.9,864.6M3658.6,864.6L3646.0,864.6M2145.3,811.3L2157.9,811.3M3658.6,811.3L3646.0,811.3M2145.3,773.5L2157.9,773.5M3658.6,773.5L3646.0,773.5M2145.3,744.2L2157.9,744.2M3658.6,744.2L3646.0,744.2M2145.3,720.2L2157.9,720.2M3658.6,720.2L3646.0,720.2M2145.3,699.9L2157.9,699.9M3658.6,699.9L3646.0,699.9M2145.3,682.3L2157.9,682.3M3658.6,682.3L3646.0,682.3M2145.3,666.9L2157.9,666.9M3658.6,666.9L3646.0,666.9M2145.3,1258.6L2165.5,1258.6M3658.6,1258.6L3638.4,1258.6M2145.3,1167.4L2157.9,1167.4M3658.6,1167.4L3646.0,1167.4M2145.3,1114.1L2157.9,1114.1M3658.6,1114.1L3646.0,1114.1M2145.3,1076.3L2157.9,1076.3M3658.6,1076.3L3646.0,1076.3M2145.3,1047.0L2157.9,1047.0M3658.6,1047.0L3646.0,1047.0M2145.3,1023.0L2157.9,1023.0M3658.6,1023.0L3646.0,1023.0M2145.3,1002.7L2157.9,1002.7M3658.6,1002.7L3646.0,1002.7M2145.3,985.1L2157.9,985.1M3658.6,985.1L3646.0,985.1M2145.3,969.7L2157.9,969.7M3658.6,969.7L3646.0,969.7M2145.3,1470.2L2157.9,1470.2M3658.6,1470.2L3646.0,1470.2M2145.3,1416.9L2157.9,1416.9M3658.6,1416.9L3646.0,1416.9M2145.3,1379.1L2157.9,1379.1M3658.6,1379.1L3646.0,1379.1M2145.3,1349.8L2157.9,1349.8M3658.6,1349.8L3646.0,1349.8M2145.3,1325.8L2157.9,1325.8M3658.6,1325.8L3646.0,1325.8M2145.3,1305.5L2157.9,1305.5M3658.6,1305.5L3646.0,1305.5M2145.3,1287.9L2157.9,1287.9M3658.6,1287.9L3646.0,1287.9M2145.3,1272.5L2157.9,1272.5M3658.6,1272.5L3646.0,1272.5"/>
</g>
<g fill="#000">
<text x="2020.4" y="78.3" font-size="75">10</text><text x="2103.1" y="47.5" font-size="52.5">0</text>
<text x="1989.8" y="381.1" font-size="75">10</text><text x="2072.5" y="350.3" font-size="52.5">−1</text>
<text x="1989.8" y="683.9" font-size="75">10</text><text x="2072.5" y="653.1" font-size="52.5">−2</text>
<text x="1989.8" y="986.7" font-size="75">10</text><text x="2072.5" y="955.9" font-size="52.5">−3</text>
<text x="1989.8" y="1289.5" font-size="75">10</text><text x="2072.5" y="1258.7" font-size="52.5">−4</text>
<text x="1989.8" y="1592.3" font-size="75">10</text><text x="2072.5" y="1561.5" font-size="52.5">−5</text>
<text x="2088.5" y="1648.7" font-size="75">10</text><text x="2171.2" y="1617.9" font-size="52.5">0</text>
<text x="2649.8" y="1648.7" font-size="75">10</text><text x="2732.5" y="1617.9" font-size="52.5">1</text>
<text x="3211.1" y="1648.7" font-size="75">10</text><text x="3293.8" y="1617.9" font-size="52.5">2</text>
<text x="2730.4" y="1777" font-size="88.5">m<tspan font-size="62.5" dy="16.3">K</tspan><tspan dy="-16.3" dx="2.5">[GeV]</tspan></text>
<text x="1940.4" y="823.5" font-size="90" font-family="'DejaVu Sans',sans-serif" font-style="oblique" transform="rotate(-90 1940.4 823.5)">ϵ</text>
</g>
</svg></body></html>
